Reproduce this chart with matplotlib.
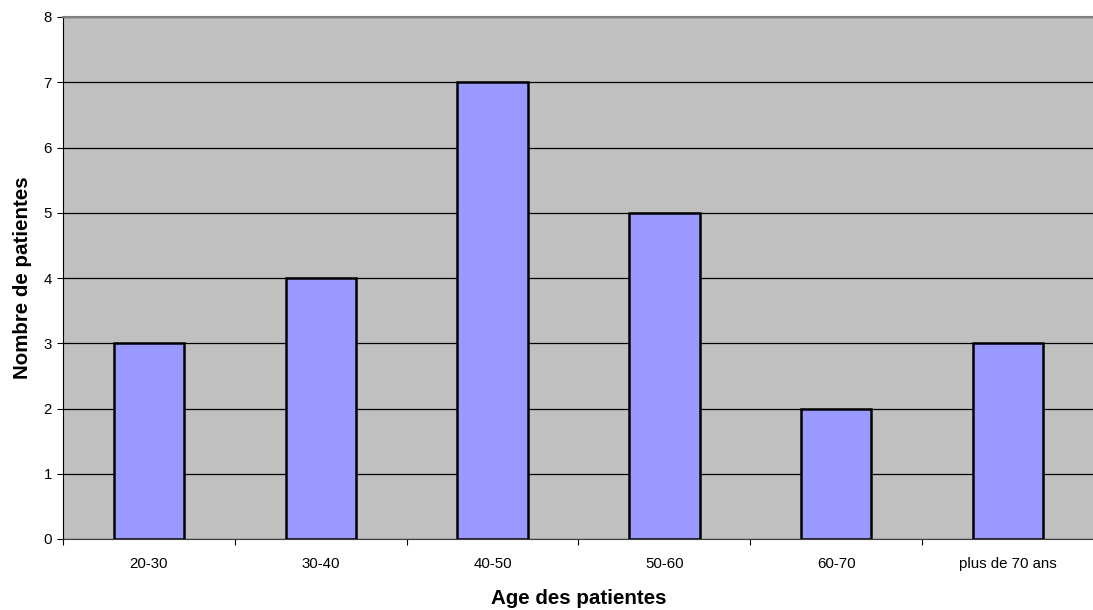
import numpy as np
import matplotlib.pyplot as plt

# Age groups and number of patients
categories = ['20-30', '30-40', '40-50', '50-60', '60-70', 'plus de 70 ans']
counts = [3, 4, 7, 5, 2, 3]

plt.rcParams['font.family'] = ['Liberation Sans', 'DejaVu Sans']

fig = plt.figure(figsize=(10.93, 6.10), dpi=100)
ax = fig.add_axes([63 / 1093, 1 - 539 / 610, (1094 - 63) / 1093, (539 - 17) / 610])
ax.set_facecolor('#C0C0C0')

x = np.arange(len(categories))
ax.bar(x, counts, width=0.41, color='#9999FF', edgecolor='black', linewidth=1.8, zorder=3)

ax.set_xlim(-0.5, len(categories) - 0.5)
ax.set_ylim(0, 8)
ax.set_yticks(range(0, 9))
ax.yaxis.grid(True, color='black', linewidth=0.9, zorder=0)
ax.set_axisbelow(True)

# category labels centred, ticks between categories
ax.set_xticks(x)
ax.set_xticklabels(categories, fontsize=10.8)
ax.set_xticks(np.arange(-0.5, len(categories)), minor=True)
ax.tick_params(axis='x', which='major', length=0, pad=13)
ax.tick_params(axis='x', which='minor', length=4, width=0.8, color='black')
ax.tick_params(axis='y', length=4, width=0.8, labelsize=10.8, pad=4)

ax.spines['left'].set_color('black')
ax.spines['bottom'].set_color('#404040')
ax.spines['top'].set_color('#808080')
ax.spines['top'].set_linewidth(1.5)
ax.spines['right'].set_visible(False)

ax.set_xlabel('Age des patientes', fontsize=14.8, fontweight='bold', labelpad=13)
ax.set_ylabel('Nombre de patientes', fontsize=14.8, fontweight='bold', labelpad=8)

fig.savefig('out.png', dpi=100)
